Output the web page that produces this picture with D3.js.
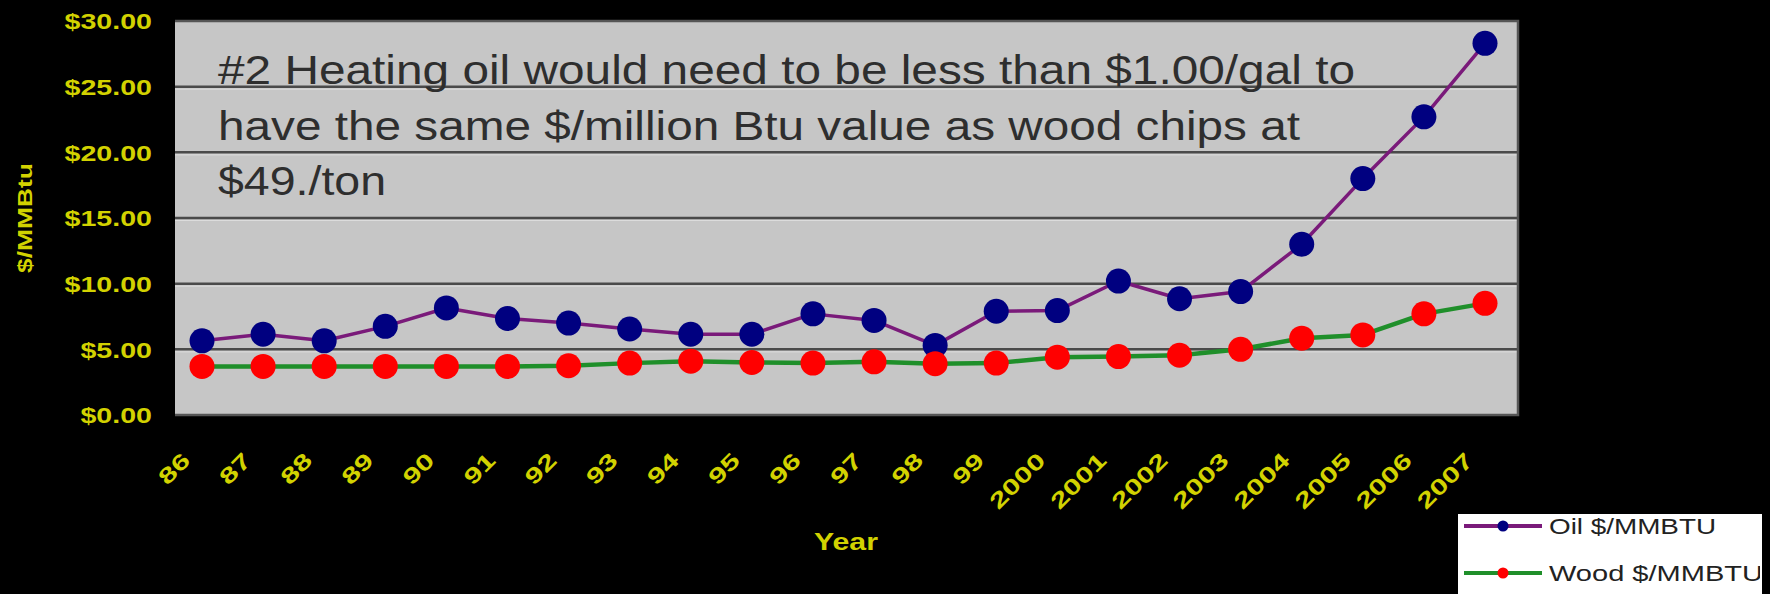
<!DOCTYPE html>
<html>
<head>
<meta charset="utf-8">
<script src="https://cdn.jsdelivr.net/npm/d3@7"></script>
<style>
  html, body { margin: 0; padding: 0; background: #000; }
  svg { display: block; }
</style>
</head>
<body>
<svg id="chart" width="1770" height="594"></svg>
<script>
// Heating cost per million Btu, heating oil vs. wood chips
const years = ["86","87","88","89","90","91","92","93","94","95","96","97","98","99",
               "2000","2001","2002","2003","2004","2005","2006","2007"];
const oilPerMMBtu  = [5.65, 6.15, 5.65, 6.75, 8.15, 7.35, 7.0, 6.55, 6.15, 6.15, 7.7,
                      7.2, 5.3, 7.9, 7.95, 10.2, 8.85, 9.4, 13.0, 18.0, 22.7, 28.3];
const woodPerMMBtu = [3.7, 3.7, 3.7, 3.7, 3.7, 3.7, 3.75, 3.95, 4.1, 4.0, 3.95,
                      4.05, 3.9, 3.95, 4.4, 4.45, 4.55, 5.0, 5.85, 6.1, 7.7, 8.5];
const yTicks = [0, 5, 10, 15, 20, 25, 30];
const seriesNames = ["Oil $/MMBTU", "Wood $/MMBTU"];
const noteLines = [
  "#2 Heating oil would need to be less than $1.00/gal to",
  "have the same $/million Btu value as wood chips at",
  "$49./ton"
];

const svg = d3.select("#chart");
const plot = { left: 175, right: 1518, top: 21, bottom: 415 };
const yellow = "#d2d200";
const labelFont = "'Liberation Sans', Arial, sans-serif";

const x = d3.scalePoint().domain(years).range([202, 1485]);
const y = d3.scaleLinear().domain([0, 30]).range([plot.bottom, plot.top]);

svg.append("rect").attr("width", 1770).attr("height", 594).attr("fill", "#000");

// plot background
svg.append("rect")
  .attr("x", plot.left).attr("y", plot.top)
  .attr("width", plot.right - plot.left).attr("height", plot.bottom - plot.top)
  .attr("fill", "#c6c6c6");

// horizontal gridlines with a faint highlight underneath
const grid = svg.append("g");
grid.selectAll("line.hl").data(yTicks.slice(1, -1)).join("line")
  .attr("x1", plot.left).attr("x2", plot.right)
  .attr("y1", d => y(d) + 2.5).attr("y2", d => y(d) + 2.5)
  .attr("stroke", "#dcdcdc").attr("stroke-width", 1);
grid.selectAll("line.g").data(yTicks.slice(1, -1)).join("line")
  .attr("x1", plot.left).attr("x2", plot.right)
  .attr("y1", d => y(d)).attr("y2", d => y(d))
  .attr("stroke", "#4a4a4a").attr("stroke-width", 2.5);

// plot frame
svg.append("path")
  .attr("d", `M${plot.left},${plot.top}H${plot.right}V${plot.bottom}H${plot.left}`)
  .attr("fill", "none").attr("stroke", "#555").attr("stroke-width", 2.5);

// annotation
const note = svg.append("g").attr("font-family", "Arial, 'Liberation Sans', sans-serif")
  .attr("font-size", 40).attr("fill", "#2e2e2e");
const noteWidths = [1137, 1082, 168];
noteLines.forEach((t, i) => {
  note.append("text")
    .attr("x", 218).attr("y", 84 + i * 55.5)
    .attr("textLength", noteWidths[i]).attr("lengthAdjust", "spacingAndGlyphs")
    .text(t);
});

// widen the bold yellow labels
function widen(sel, k) {
  sel.each(function () {
    const w = this.getComputedTextLength();
    d3.select(this).attr("textLength", w * k).attr("lengthAdjust", "spacingAndGlyphs");
  });
}

// y axis
const yAxis = svg.append("g")
  .attr("transform", `translate(${plot.left},0)`)
  .call(d3.axisLeft(y).tickValues(yTicks).tickFormat(d3.format("$.2f")).tickSize(0).tickPadding(23));
yAxis.select(".domain").remove();
yAxis.selectAll("text")
  .attr("fill", yellow).attr("font-family", labelFont)
  .attr("font-weight", "bold").attr("font-size", 22)
  .attr("dy", "0.36em")
  .call(widen, 1.3);

// x axis
const xAxis = svg.append("g")
  .attr("transform", `translate(0,${plot.bottom})`)
  .call(d3.axisBottom(x).tickSize(0));
xAxis.select(".domain").remove();
xAxis.selectAll("text")
  .attr("fill", yellow).attr("font-family", labelFont)
  .attr("font-weight", "bold").attr("font-size", 22)
  .attr("text-anchor", "end")
  .attr("x", 0).attr("y", 0).attr("dy", 0)
  .attr("transform", "translate(-11,47) rotate(-45)")
  .call(widen, 1.4);

// axis titles
svg.append("text")
  .attr("x", 846).attr("y", 550)
  .attr("text-anchor", "middle")
  .attr("fill", yellow).attr("font-family", labelFont)
  .attr("font-weight", "bold").attr("font-size", 24)
  .attr("textLength", 64).attr("lengthAdjust", "spacingAndGlyphs")
  .text("Year");
svg.append("text")
  .attr("transform", "translate(32,218) rotate(-90)")
  .attr("text-anchor", "middle")
  .attr("fill", yellow).attr("font-family", labelFont)
  .attr("font-weight", "bold").attr("font-size", 20)
  .attr("textLength", 110).attr("lengthAdjust", "spacingAndGlyphs")
  .text("$/MMBtu");

// series
const series = [
  { name: seriesNames[0], values: oilPerMMBtu, line: "#7a1a7a", marker: "#000080", width: 3.5 },
  { name: seriesNames[1], values: woodPerMMBtu, line: "#1f8f2a", marker: "#ff0000", width: 4.5 }
];
const lineGen = d3.line().x((d, i) => x(years[i])).y(d => y(d));

series.forEach(s => {
  svg.append("path")
    .attr("d", lineGen(s.values))
    .attr("fill", "none").attr("stroke", s.line).attr("stroke-width", s.width)
    .attr("stroke-linejoin", "round");
});
series.forEach(s => {
  svg.append("g").selectAll("circle").data(s.values).join("circle")
    .attr("cx", (d, i) => x(years[i])).attr("cy", d => y(d))
    .attr("r", 12.5).attr("fill", s.marker);
});

// legend
const legend = svg.append("g");
legend.append("rect")
  .attr("x", 1458).attr("y", 514).attr("width", 304).attr("height", 90)
  .attr("fill", "#fff");
const legendClip = svg.append("clipPath").attr("id", "legclip");
legendClip.append("rect").attr("x", 1458).attr("y", 514).attr("width", 302).attr("height", 90);
const legendWidths = [167, 214];
series.forEach((s, i) => {
  const ly = 526 + i * 47;
  legend.append("line")
    .attr("x1", 1464).attr("x2", 1542).attr("y1", ly).attr("y2", ly)
    .attr("stroke", s.line).attr("stroke-width", 4);
  legend.append("circle")
    .attr("cx", 1503).attr("cy", ly).attr("r", 5.5).attr("fill", s.marker);
  legend.append("text")
    .attr("x", 1549).attr("y", ly + 8)
    .attr("clip-path", "url(#legclip)")
    .attr("font-family", "Arial, 'Liberation Sans', sans-serif")
    .attr("font-size", 22).attr("fill", "#222")
    .attr("textLength", legendWidths[i]).attr("lengthAdjust", "spacingAndGlyphs")
    .text(s.name);
});
</script>
</body>
</html>
